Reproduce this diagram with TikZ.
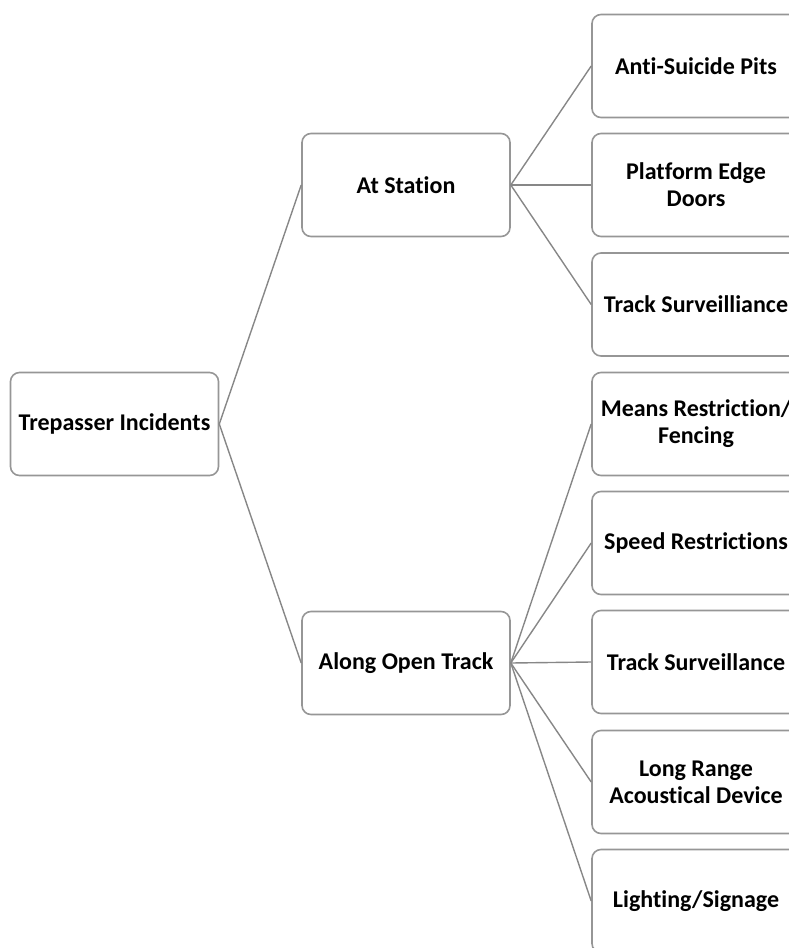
\documentclass[tikz,border=0pt]{standalone}
\usepackage{fontspec}
\setmainfont[Ligatures={NoCommon}]{Carlito}
\begin{document}
\begin{tikzpicture}[x=1pt,y=-1pt,
  box/.style={draw=boxgray,line width=1.6pt,rounded corners=9pt,minimum width=208pt,minimum height=103pt,align=center,font=\fontsize{24}{27}\selectfont\bfseries,inner sep=0pt},
  link/.style={draw=linegray,line width=1.4pt}]
\definecolor{boxgray}{RGB}{150,150,150}
\definecolor{linegray}{RGB}{135,135,135}
\useasboundingbox (0,0) rectangle (788,948);
\node[box] (root) at (114.5,424) {Trepasser Incidents};
\node[box] (st) at (406,185) {At Station};
\node[box] (ot) at (406,663) {Along Open Track};
\node[box] (a1) at (696,66) {Anti-Suicide Pits};
\node[box] (a2) at (696,185) {Platform Edge\\Doors};
\node[box] (a3) at (696,304.5) {Track Surveilliance};
\node[box] (b1) at (696,424) {Means Restriction/\\Fencing};
\node[box] (b2) at (696,543) {Speed Restrictions};
\node[box] (b3) at (696,662) {Track Surveillance};
\node[box] (b4) at (696,782) {Long Range\\Acoustical Device};
\node[box] (b5) at (696,901) {Lighting/Signage};
\foreach \c in {st,ot} \draw[link] (root.east) -- (\c.west);
\foreach \c in {a1,a2,a3} \draw[link] (st.east) -- (\c.west);
\foreach \c in {b1,b2,b3,b4,b5} \draw[link] (ot.east) -- (\c.west);
\end{tikzpicture}
\end{document}
